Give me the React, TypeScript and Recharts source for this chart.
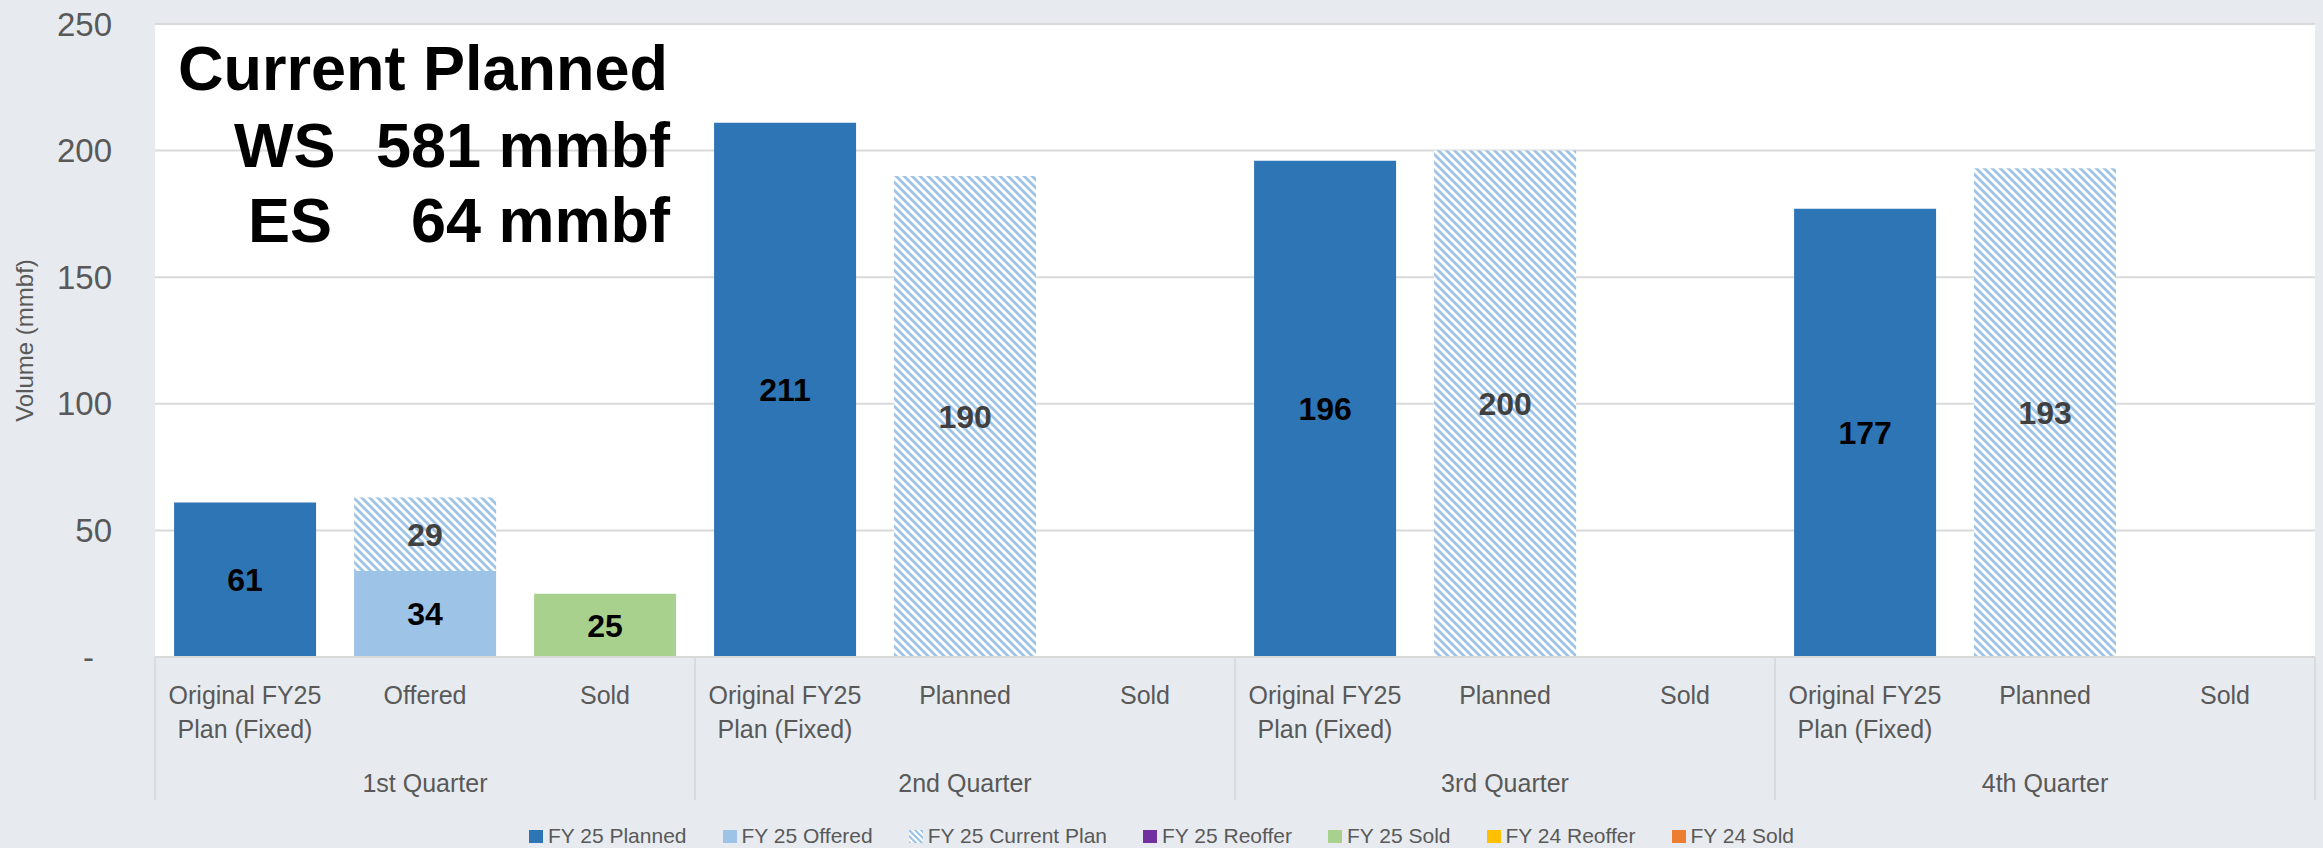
import { BarChart, Bar, XAxis, YAxis, CartesianGrid, LabelList } from 'recharts';

const quarters = ['1st Quarter', '2nd Quarter', '3rd Quarter', '4th Quarter'];
const columnLabels = [
  ['Original FY25', 'Plan (Fixed)'], ['Offered'], ['Sold'],
  ['Original FY25', 'Plan (Fixed)'], ['Planned'], ['Sold'],
  ['Original FY25', 'Plan (Fixed)'], ['Planned'], ['Sold'],
  ['Original FY25', 'Plan (Fixed)'], ['Planned'], ['Sold'],
];

const fy25Planned = [61, null, null, 211, null, null, 196, null, null, 177, null, null];
const fy25Offered = [null, 34, null, null, null, null, null, null, null, null, null, null];
const fy25CurrentPlan = [null, 29, null, null, 190, null, null, 200, null, null, 193, null];
const fy25Reoffer = [null, null, null, null, null, null, null, null, null, null, null, null];
const fy25Sold = [null, null, 25, null, null, null, null, null, null, null, null, null];
const fy24Reoffer = [null, null, null, null, null, null, null, null, null, null, null, null];
const fy24Sold = [null, null, null, null, null, null, null, null, null, null, null, null];

const yTicks = [0, 50, 100, 150, 200, 250];

const legendNames = ['FY 25 Planned', 'FY 25 Offered', 'FY 25 Current Plan', 'FY 25 Reoffer', 'FY 25 Sold', 'FY 24 Reoffer', 'FY 24 Sold'];
const legendColors = ['#2E75B6', '#9DC3E6', 'hatch', '#7030A0', '#A9D18E', '#FFC000', '#ED7D31'];

const W = 2323;
const H = 848;
const MARGIN = { top: 24, right: 8, left: 0, bottom: 48 };
const Y_AXIS_W = 155;
const X_AXIS_H = 143;
const SLOT = (W - MARGIN.right - Y_AXIS_W) / columnLabels.length;

const FONT = "'Liberation Sans', Arial, sans-serif";
const TEXT = '#595959';
const BG = '#E7EBEF';

const data = columnLabels.map((lines, i) => ({
  key: `c${i}`,
  lines,
  quarter: quarters[Math.floor(i / 3)],
  fy25Planned: fy25Planned[i],
  fy25Offered: fy25Offered[i],
  fy25CurrentPlan: fy25CurrentPlan[i],
  fy25Reoffer: fy25Reoffer[i],
  fy25Sold: fy25Sold[i],
  fy24Reoffer: fy24Reoffer[i],
  fy24Sold: fy24Sold[i],
}));

function CategoryTick(props: any) {
  const { x, y, payload } = props;
  const i = payload.index;
  const row = data[i];
  const left = x - SLOT / 2;
  const right = x + SLOT / 2;
  return (
    <g>
      {row.lines.map((t, k) => (
        <text key={k} x={x} y={y + 47 + k * 34} textAnchor="middle" fill={TEXT} fontSize={25} fontFamily={FONT}>
          {t}
        </text>
      ))}
      {i % 3 === 1 && (
        <text x={x} y={y + 135} textAnchor="middle" fill={TEXT} fontSize={25} fontFamily={FONT}>
          {row.quarter}
        </text>
      )}
      {i % 3 === 0 && <line x1={left} x2={left} y1={y} y2={y + X_AXIS_H} stroke="#D3D7DB" strokeWidth={1.5} />}
      {i === data.length - 1 && <line x1={right} x2={right} y1={y} y2={y + X_AXIS_H} stroke="#D3D7DB" strokeWidth={1.5} />}
    </g>
  );
}

function ValueTick(props: any) {
  const { x, y, payload } = props;
  if (payload.value === 0) {
    return (
      <text x={x - 18} y={y} dy="0.35em" textAnchor="end" fill={TEXT} fontSize={33} fontFamily={FONT}>
        -
      </text>
    );
  }
  return (
    <text x={x} y={y} dy="0.35em" textAnchor="end" fill={TEXT} fontSize={33} fontFamily={FONT}>
      {payload.value}
    </text>
  );
}

const labelStyle = { fontSize: 32, fontWeight: 'bold' as const, fontFamily: FONT };

function Swatch({ color }: { color: string }) {
  if (color === 'hatch') {
    return (
      <svg width={14} height={13} style={{ marginRight: 5, verticalAlign: 'baseline' }}>
        <defs>
          <pattern id="hatchLegend" patternUnits="userSpaceOnUse" width={6} height={6}>
            <rect width={6} height={6} fill="#FFFFFF" />
            <path d="M-1.5,-1.5 L7.5,7.5 M4.5,-1.5 L7.5,1.5 M-1.5,4.5 L1.5,7.5" stroke="#9DC3E6" strokeWidth={2.2} />
          </pattern>
        </defs>
        <rect width={14} height={13} fill="url(#hatchLegend)" />
      </svg>
    );
  }
  return <span style={{ display: 'inline-block', width: 14, height: 13, background: color, marginRight: 5 }} />;
}

export default function App() {
  return (
    <div style={{ position: 'absolute', left: 0, top: 0, width: W, height: H, background: BG, overflow: 'hidden' }}>
      <BarChart width={W} height={H} data={data} margin={MARGIN} barCategoryGap="10.6%" style={{ fontFamily: FONT }}>
        <defs>
          <pattern id="hatch" patternUnits="userSpaceOnUse" width={8} height={8}>
            <rect width={8} height={8} fill="#FFFFFF" />
            <path d="M-2,-2 L10,10 M6,-2 L10,2 M-2,6 L2,10" stroke="#9DC3E6" strokeWidth={2.8} />
          </pattern>
        </defs>
        <CartesianGrid vertical={false} stroke="#D9D9D9" strokeWidth={2} fill="#FFFFFF" />
        <XAxis
          dataKey="key"
          interval={0}
          height={X_AXIS_H}
          tickLine={false}
          tickSize={0}
          tickMargin={0}
          axisLine={{ stroke: '#D9D9D9', strokeWidth: 2 }}
          tick={<CategoryTick />}
        />
        <YAxis
          width={Y_AXIS_W}
          domain={[0, 250]}
          ticks={yTicks}
          axisLine={false}
          tickLine={false}
          tickSize={0}
          tickMargin={43}
          tick={<ValueTick />}
          label={{
            content: (p: any) => {
              const vb = p.viewBox || { y: 24, height: 633 };
              const cy = vb.y + vb.height / 2;
              return (
                <text transform={`translate(25,${cy}) rotate(-90)`} textAnchor="middle" dy="0.35em" fill={TEXT} fontSize={24} fontFamily={FONT}>
                  Volume (mmbf)
                </text>
              );
            },
          }}
        />
        <Bar dataKey="fy25Planned" stackId="s" fill="#2E75B6" isAnimationActive={false}>
          <LabelList dataKey="fy25Planned" position="center" fill="#000000" {...labelStyle} />
        </Bar>
        <Bar dataKey="fy25Offered" stackId="s" fill="#9DC3E6" isAnimationActive={false}>
          <LabelList dataKey="fy25Offered" position="center" fill="#000000" {...labelStyle} />
        </Bar>
        <Bar dataKey="fy25CurrentPlan" stackId="s" fill="url(#hatch)" isAnimationActive={false}>
          <LabelList dataKey="fy25CurrentPlan" position="center" fill="#404040" {...labelStyle} />
        </Bar>
        <Bar dataKey="fy25Reoffer" stackId="s" fill="#7030A0" isAnimationActive={false} />
        <Bar dataKey="fy25Sold" stackId="s" fill="#A9D18E" isAnimationActive={false}>
          <LabelList dataKey="fy25Sold" position="center" fill="#000000" {...labelStyle} />
        </Bar>
        <Bar dataKey="fy24Reoffer" stackId="s" fill="#FFC000" isAnimationActive={false} />
        <Bar dataKey="fy24Sold" stackId="s" fill="#ED7D31" isAnimationActive={false} />
      </BarChart>

      <svg width={W} height={H} style={{ position: 'absolute', left: 0, top: 0, pointerEvents: 'none' }}>
        <g fontFamily={FONT} fontWeight="bold" fontSize={63} fill="#000000">
          <text x={178} y={90}>Current Planned</text>
          <text x={234} y={167}>WS</text>
          <text x={670} y={167} textAnchor="end">581 mmbf</text>
          <text x={248} y={242}>ES</text>
          <text x={670} y={242} textAnchor="end">64 mmbf</text>
        </g>
      </svg>

      <div
        style={{
          position: 'absolute',
          left: 0,
          top: 825,
          width: W,
          display: 'flex',
          justifyContent: 'center',
          gap: 36,
          fontFamily: FONT,
          fontSize: 21,
          lineHeight: '21px',
          color: TEXT,
          whiteSpace: 'nowrap',
        }}
      >
        {legendNames.map((name, i) => (
          <span key={name}>
            <Swatch color={legendColors[i]} />
            {name}
          </span>
        ))}
      </div>
    </div>
  );
}
